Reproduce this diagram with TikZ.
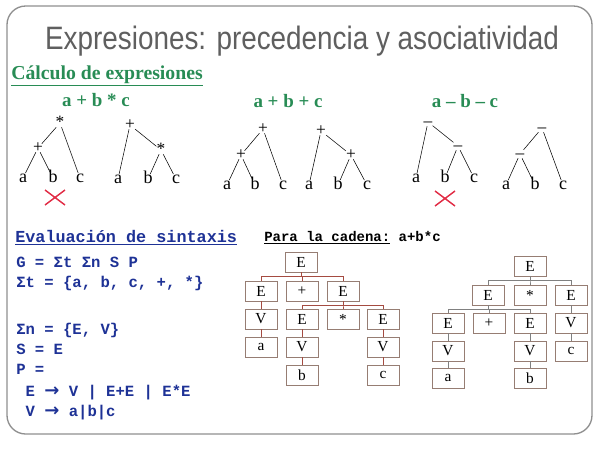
\documentclass[tikz,border=0pt]{standalone}
\usepackage{fontspec}
\setmainfont{Liberation Serif}
\newfontfamily\titlefont[FakeStretch=0.86]{Liberation Sans}
\newfontfamily\codefont{Liberation Mono}
\newfontfamily\symfont{DejaVu Sans}
\usetikzlibrary{positioning}
\definecolor{grn}{RGB}{40,140,85}
\definecolor{blu}{RGB}{30,50,150}
\definecolor{ttl}{RGB}{95,95,95}
\definecolor{boxc}{RGB}{150,125,115}
\definecolor{lnkr}{RGB}{165,75,65}
\definecolor{crossc}{RGB}{225,45,70}
\tikzstyle{op}=[inner sep=0pt, text height=6pt, text depth=0pt, font=\fontsize{13}{12}\selectfont]
\tikzstyle{leaf}=[inner sep=0pt, text height=7pt, text depth=0pt, font=\fontsize{13.5}{12}\selectfont]
\tikzstyle{box}=[fill=white, draw=boxc, shape=rectangle, minimum width=24pt, minimum height=15pt, inner sep=0pt, font=\fontsize{11.5}{11}\selectfont]
\tikzstyle{code}=[anchor=base west, inner sep=0pt, text=blu, font=\codefont\bfseries\fontsize{11.7}{12}\selectfont]
\tikzstyle{expr}=[inner sep=0pt, text=grn, font=\bfseries\fontsize{14.2}{14}\selectfont]
\tikzstyle{cross}=[draw=crossc, line width=1.1pt]
\newcommand{\arr}{{\symfont\bfseries\fontsize{13.5}{12}\selectfont →}}

\begin{document}
\begin{tikzpicture}[x=0.75pt, y=-0.75pt]
		\useasboundingbox (0,0) rectangle (599,451);
		\draw[ttl!70, line width=1pt, rounded corners=14pt] (7,6) rectangle (592,434);

		\node[text=ttl, font=\titlefont\fontsize{24.3}{26}\selectfont] (t) at (302,41) {Expresiones: precedencia y asociatividad};
		\node[anchor=west, inner sep=0pt, text=grn, font=\bfseries\fontsize{14.8}{15}\selectfont] (h1) at (11,76) {\underline{Cálculo de expresiones}};

		\node[style=expr] (e1) at (96,100) {a + b * c};
		\node[style=expr] (e2) at (288,101) {a + b + c};
		\node[style=expr] (e3) at (465,101) {a -- b -- c};

		% a+b*c
		\node[style=op] (1) at (60,123) {*};
		\node[style=op] (2) at (38,148) {+};
		\node[style=leaf] (3) at (23,178) {a};
		\node[style=leaf] (4) at (53,178) {b};
		\node[style=leaf] (5) at (80,178) {c};
		\node[style=op] (6) at (130,125) {+};
		\node[style=op] (7) at (161,150) {*};
		\node[style=leaf] (8) at (118,179) {a};
		\node[style=leaf] (9) at (148,179) {b};
		\node[style=leaf] (10) at (176,179) {c};

		\draw (1) to (2);
		\draw (1) to (5);
		\draw (2) to (3);
		\draw (2) to (4);
		\draw (6) to (8);
		\draw (6) to (7);
		\draw (7) to (9);
		\draw (7) to (10);

		% a+b+c
		\node[style=op] (11) at (263,129) {+};
		\node[style=op] (12) at (241,155) {+};
		\node[style=leaf] (13) at (227,185) {a};
		\node[style=leaf] (14) at (255,185) {b};
		\node[style=leaf] (15) at (283,185) {c};
		\node[style=op] (16) at (321,131) {+};
		\node[style=op] (17) at (351,155) {+};
		\node[style=leaf] (18) at (309,185) {a};
		\node[style=leaf] (19) at (338,185) {b};
		\node[style=leaf] (20) at (367,185) {c};

		\draw (11) to (12);
		\draw (11) to (15);
		\draw (12) to (13);
		\draw (12) to (14);
		\draw (16) to (18);
		\draw (16) to (17);
		\draw (17) to (19);
		\draw (17) to (20);

		% a-b-c
		\node[style=op] (21) at (428,122) {--};
		\node[style=op] (22) at (458,146) {--};
		\node[style=leaf] (23) at (416,178) {a};
		\node[style=leaf] (24) at (445,178) {b};
		\node[style=leaf] (25) at (474,178) {c};
		\node[style=op] (26) at (542,128) {--};
		\node[style=op] (27) at (520,154) {--};
		\node[style=leaf] (28) at (506,185) {a};
		\node[style=leaf] (29) at (535,185) {b};
		\node[style=leaf] (30) at (563,185) {c};

		\draw (21) to (23);
		\draw (21) to (22);
		\draw (22) to (24);
		\draw (22) to (25);
		\draw (26) to (27);
		\draw (26) to (30);
		\draw (27) to (28);
		\draw (27) to (29);

		\draw[style=cross] (45,190) -- (65,205) (45,205) -- (65,190);
		\draw[style=cross] (435,191) -- (455,206) (435,206) -- (455,191);

		% grammar
		\node[style=code, font=\codefont\bfseries\fontsize{12.6}{13}\selectfont] (g0) at (15,242) {\underline{Evaluación de sintaxis}};
		\node[style=code] (g1) at (16,267) {G = Σt Σn S P};
		\node[style=code] (g2) at (16,287) {Σt = \{a, b, c, +, *\}};
		\node[style=code] (g3) at (16,334) {Σn = \{E, V\}};
		\node[style=code] (g4) at (16,354) {S = E};
		\node[style=code] (g5) at (16,374) {P =};
		\node[style=code] (g6) at (16,396) {\hphantom{x}E \arr{} V | E+E | E*E};
		\node[style=code] (g7) at (16,416) {\hphantom{x}V \arr{} a|b|c};
		\node[style=code, text=black, font=\codefont\bfseries\fontsize{10.5}{11}\selectfont] (p0) at (264,241) {\underline{Para la cadena:} a+b*c};

		% arbol izquierdo
		\node[style=box] (31) at (301,262) {E};
		\node[style=box] (32) at (261,291) {E};
		\node[style=box] (33) at (302,291) {+};
		\node[style=box] (34) at (343,291) {E};
		\node[style=box] (35) at (261,319) {V};
		\node[style=box] (36) at (302,319) {E};
		\node[style=box] (37) at (343,319) {*};
		\node[style=box] (38) at (383,319) {E};
		\node[style=box] (39) at (261,347) {a};
		\node[style=box] (40) at (302,347) {V};
		\node[style=box] (41) at (383,347) {V};
		\node[style=box] (42) at (302,375) {b};
		\node[style=box] (43) at (383,375) {c};

		\draw[lnkr] (31.south) -- ++(0,4) -| (32.north);
		\draw[lnkr] (31.south) -- ++(0,4) -| (33.north);
		\draw[lnkr] (31.south) -- ++(0,4) -| (34.north);
		\draw[lnkr] (32) -- (35);
		\draw[lnkr] (35) -- (39);
		\draw[lnkr] (34.south) -- ++(0,4) -| (36.north);
		\draw[lnkr] (34.south) -- ++(0,4) -| (37.north);
		\draw[lnkr] (34.south) -- ++(0,4) -| (38.north);
		\draw[lnkr] (36) -- (40);
		\draw[lnkr] (40) -- (42);
		\draw[lnkr] (38) -- (41);
		\draw[lnkr] (41) -- (43);

		% arbol derecho
		\node[style=box] (44) at (530,266) {E};
		\node[style=box] (45) at (488,295) {E};
		\node[style=box] (46) at (530,295) {*};
		\node[style=box] (47) at (571,295) {E};
		\node[style=box] (48) at (448,323) {E};
		\node[style=box] (49) at (489,323) {+};
		\node[style=box] (50) at (530,323) {E};
		\node[style=box] (51) at (571,323) {V};
		\node[style=box] (52) at (448,351) {V};
		\node[style=box] (53) at (530,351) {V};
		\node[style=box] (54) at (571,351) {c};
		\node[style=box] (55) at (448,378) {a};
		\node[style=box] (56) at (530,378) {b};

		\draw[gray] (44.south) -- ++(0,4) -| (45.north);
		\draw[gray] (44.south) -- ++(0,4) -| (46.north);
		\draw[gray] (44.south) -- ++(0,4) -| (47.north);
		\draw[gray] (45.south) -- ++(0,4) -| (48.north);
		\draw[gray] (45.south) -- ++(0,4) -| (49.north);
		\draw[gray] (45.south) -- ++(0,4) -| (50.north);
		\draw[gray] (47) -- (51);
		\draw[gray] (51) -- (54);
		\draw[gray] (48) -- (52);
		\draw[gray] (52) -- (55);
		\draw[gray] (50) -- (53);
		\draw[gray] (53) -- (56);
	\end{tikzpicture}
\end{document}
